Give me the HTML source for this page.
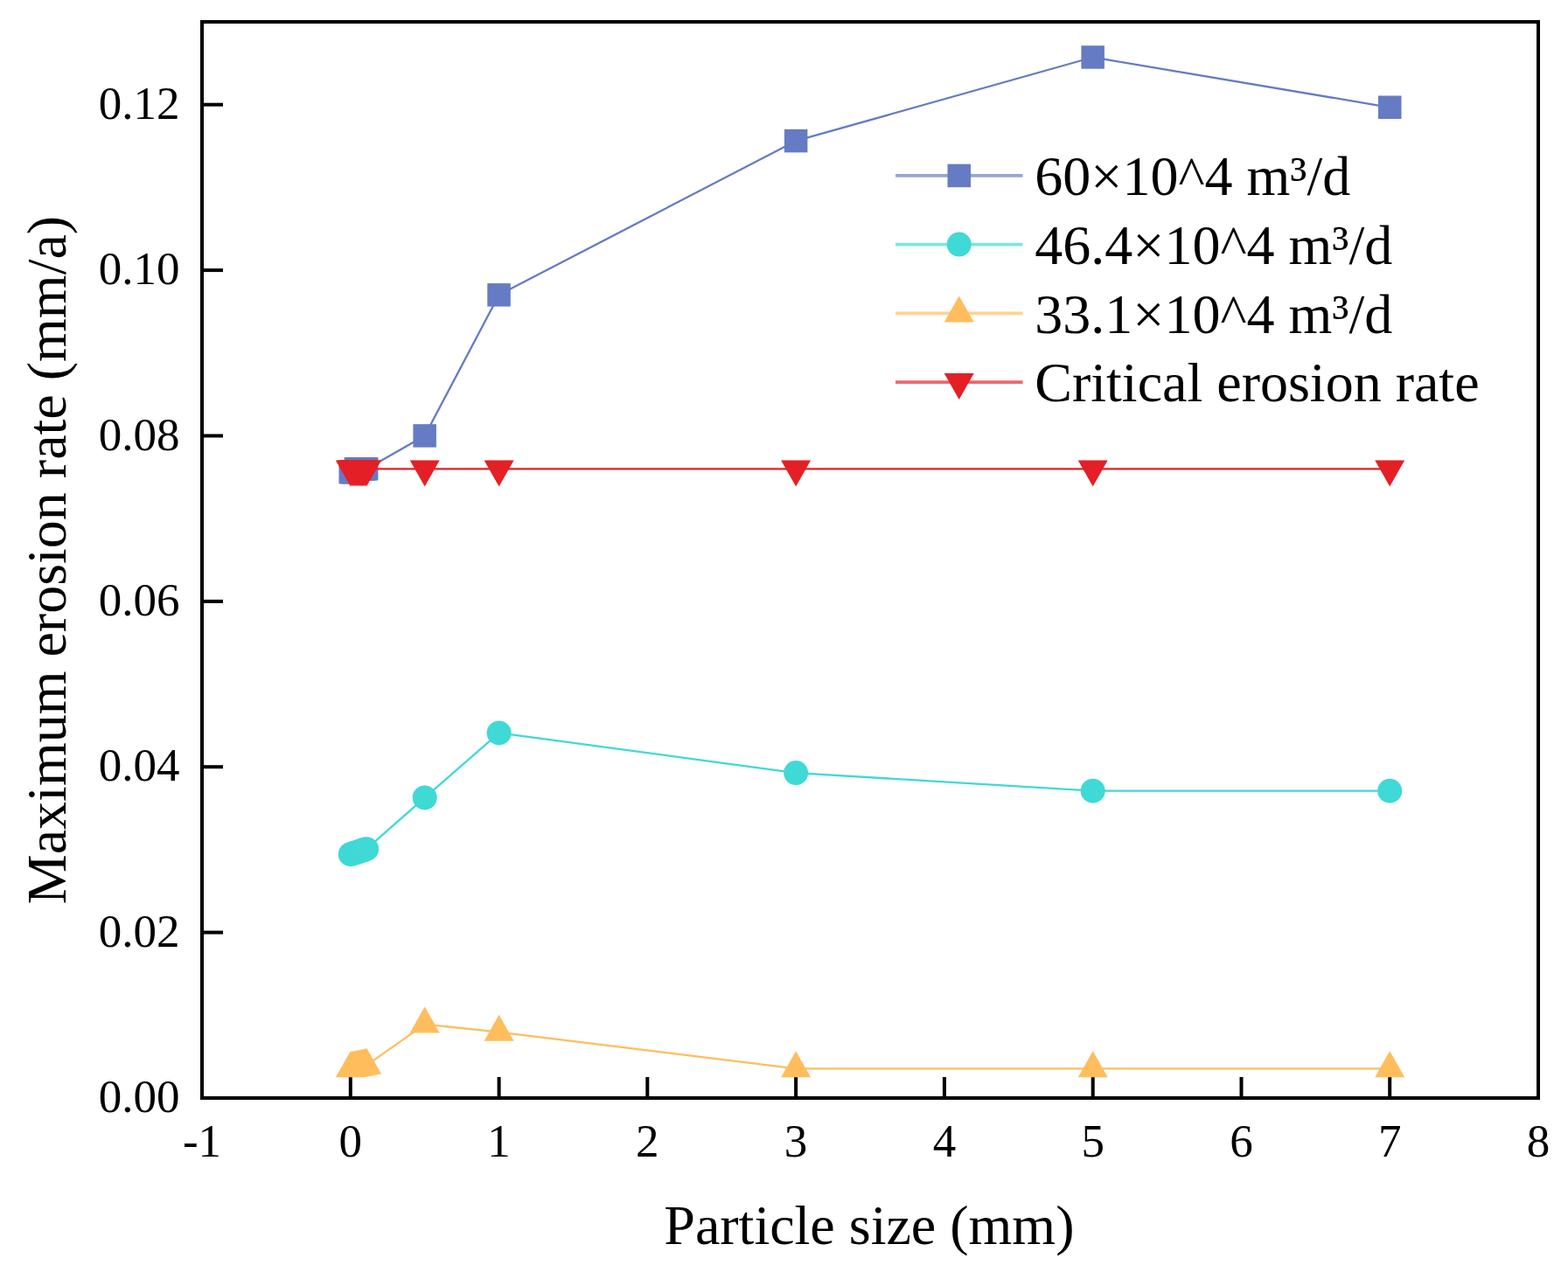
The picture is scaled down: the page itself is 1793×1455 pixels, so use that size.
<!DOCTYPE html>
<html><head><meta charset="utf-8"><style>
html,body{margin:0;padding:0;background:#fff;}
svg{display:block;filter:blur(0.45px);}
text{font-family:"Liberation Serif","Times New Roman",serif;fill:#000;}
</style></head><body>
<svg width="1793" height="1455" viewBox="0 0 1793 1455">
<rect width="1793" height="1455" fill="#fff"/>
<line x1="400.8" y1="1256.0" x2="400.8" y2="1232.0" stroke="#000" stroke-width="4"/><line x1="570.6" y1="1256.0" x2="570.6" y2="1232.0" stroke="#000" stroke-width="4"/><line x1="740.3" y1="1256.0" x2="740.3" y2="1232.0" stroke="#000" stroke-width="4"/><line x1="910.1" y1="1256.0" x2="910.1" y2="1232.0" stroke="#000" stroke-width="4"/><line x1="1079.9" y1="1256.0" x2="1079.9" y2="1232.0" stroke="#000" stroke-width="4"/><line x1="1249.7" y1="1256.0" x2="1249.7" y2="1232.0" stroke="#000" stroke-width="4"/><line x1="1419.5" y1="1256.0" x2="1419.5" y2="1232.0" stroke="#000" stroke-width="4"/><line x1="1589.2" y1="1256.0" x2="1589.2" y2="1232.0" stroke="#000" stroke-width="4"/><line x1="231.0" y1="1066.6" x2="255.0" y2="1066.6" stroke="#000" stroke-width="4"/><line x1="231.0" y1="877.2" x2="255.0" y2="877.2" stroke="#000" stroke-width="4"/><line x1="231.0" y1="687.9" x2="255.0" y2="687.9" stroke="#000" stroke-width="4"/><line x1="231.0" y1="498.5" x2="255.0" y2="498.5" stroke="#000" stroke-width="4"/><line x1="231.0" y1="309.1" x2="255.0" y2="309.1" stroke="#000" stroke-width="4"/><line x1="231.0" y1="119.7" x2="255.0" y2="119.7" stroke="#000" stroke-width="4"/>
<polyline points="400.8,540.1 402.8,540.1 404.9,540.1 406.9,536.4 408.9,536.4 411.0,536.4 413.0,536.4 415.0,536.4 417.1,536.4 419.1,536.4 485.7,498.5 570.6,337.3 910.1,161.2 1249.7,65.5 1589.2,122.8" fill="none" stroke="#657bc3" stroke-width="2.3" stroke-linejoin="round"/><rect x="387.5" y="526.9" width="26.5" height="26.5" fill="#657bc3"/><rect x="389.6" y="526.9" width="26.5" height="26.5" fill="#657bc3"/><rect x="391.6" y="526.9" width="26.5" height="26.5" fill="#657bc3"/><rect x="393.6" y="523.1" width="26.5" height="26.5" fill="#657bc3"/><rect x="395.7" y="523.1" width="26.5" height="26.5" fill="#657bc3"/><rect x="397.7" y="523.1" width="26.5" height="26.5" fill="#657bc3"/><rect x="399.8" y="523.1" width="26.5" height="26.5" fill="#657bc3"/><rect x="401.8" y="523.1" width="26.5" height="26.5" fill="#657bc3"/><rect x="403.8" y="523.1" width="26.5" height="26.5" fill="#657bc3"/><rect x="405.9" y="523.1" width="26.5" height="26.5" fill="#657bc3"/><rect x="472.4" y="485.2" width="26.5" height="26.5" fill="#657bc3"/><rect x="557.3" y="324.1" width="26.5" height="26.5" fill="#657bc3"/><rect x="896.9" y="147.9" width="26.5" height="26.5" fill="#657bc3"/><rect x="1236.4" y="52.2" width="26.5" height="26.5" fill="#657bc3"/><rect x="1576.0" y="109.5" width="26.5" height="26.5" fill="#657bc3"/><polyline points="400.8,977.2 402.8,976.6 404.9,975.9 406.9,975.2 408.9,974.5 411.0,973.9 413.0,973.2 415.0,972.5 417.1,971.8 419.1,971.2 485.7,912.4 570.6,838.4 910.1,884.1 1249.7,904.7 1589.2,904.7" fill="none" stroke="#3fd9d6" stroke-width="2.3" stroke-linejoin="round"/><circle cx="400.8" cy="977.2" r="14" fill="#3fd9d6"/><circle cx="402.8" cy="976.6" r="14" fill="#3fd9d6"/><circle cx="404.9" cy="975.9" r="14" fill="#3fd9d6"/><circle cx="406.9" cy="975.2" r="14" fill="#3fd9d6"/><circle cx="408.9" cy="974.5" r="14" fill="#3fd9d6"/><circle cx="411.0" cy="973.9" r="14" fill="#3fd9d6"/><circle cx="413.0" cy="973.2" r="14" fill="#3fd9d6"/><circle cx="415.0" cy="972.5" r="14" fill="#3fd9d6"/><circle cx="417.1" cy="971.8" r="14" fill="#3fd9d6"/><circle cx="419.1" cy="971.2" r="14" fill="#3fd9d6"/><circle cx="485.7" cy="912.4" r="14" fill="#3fd9d6"/><circle cx="570.6" cy="838.4" r="14" fill="#3fd9d6"/><circle cx="910.1" cy="884.1" r="14" fill="#3fd9d6"/><circle cx="1249.7" cy="904.7" r="14" fill="#3fd9d6"/><circle cx="1589.2" cy="904.7" r="14" fill="#3fd9d6"/><polyline points="400.8,1222.2 402.8,1221.8 404.9,1221.4 406.9,1221.0 408.9,1220.6 411.0,1220.2 413.0,1219.8 415.0,1219.4 417.1,1219.0 419.1,1218.6 485.7,1171.6 570.6,1180.7 910.1,1222.3 1249.7,1222.3 1589.2,1222.3" fill="none" stroke="#ffbd5c" stroke-width="2.3" stroke-linejoin="round"/><polygon points="400.8,1202.2 383.8,1232.2 417.8,1232.2" fill="#ffbd5c"/><polygon points="402.8,1201.8 385.8,1231.8 419.8,1231.8" fill="#ffbd5c"/><polygon points="404.9,1201.4 387.9,1231.4 421.9,1231.4" fill="#ffbd5c"/><polygon points="406.9,1201.0 389.9,1231.0 423.9,1231.0" fill="#ffbd5c"/><polygon points="408.9,1200.6 391.9,1230.6 425.9,1230.6" fill="#ffbd5c"/><polygon points="411.0,1200.2 394.0,1230.2 428.0,1230.2" fill="#ffbd5c"/><polygon points="413.0,1199.8 396.0,1229.8 430.0,1229.8" fill="#ffbd5c"/><polygon points="415.0,1199.4 398.0,1229.4 432.0,1229.4" fill="#ffbd5c"/><polygon points="417.1,1199.0 400.1,1229.0 434.1,1229.0" fill="#ffbd5c"/><polygon points="419.1,1198.6 402.1,1228.6 436.1,1228.6" fill="#ffbd5c"/><polygon points="485.7,1151.6 468.7,1181.6 502.7,1181.6" fill="#ffbd5c"/><polygon points="570.6,1160.7 553.6,1190.7 587.6,1190.7" fill="#ffbd5c"/><polygon points="910.1,1202.3 893.1,1232.3 927.1,1232.3" fill="#ffbd5c"/><polygon points="1249.7,1202.3 1232.7,1232.3 1266.7,1232.3" fill="#ffbd5c"/><polygon points="1589.2,1202.3 1572.2,1232.3 1606.2,1232.3" fill="#ffbd5c"/><polyline points="400.8,536.4 402.8,536.4 404.9,536.4 406.9,536.4 408.9,536.4 411.0,536.4 413.0,536.4 415.0,536.4 417.1,536.4 419.1,536.4 485.7,536.4 570.6,536.4 910.1,536.4 1249.7,536.4 1589.2,536.4" fill="none" stroke="#e41f26" stroke-width="2.3" stroke-linejoin="round"/><polygon points="400.8,556.4 383.8,526.4 417.8,526.4" fill="#e41f26"/><polygon points="402.8,556.4 385.8,526.4 419.8,526.4" fill="#e41f26"/><polygon points="404.9,556.4 387.9,526.4 421.9,526.4" fill="#e41f26"/><polygon points="406.9,556.4 389.9,526.4 423.9,526.4" fill="#e41f26"/><polygon points="408.9,556.4 391.9,526.4 425.9,526.4" fill="#e41f26"/><polygon points="411.0,556.4 394.0,526.4 428.0,526.4" fill="#e41f26"/><polygon points="413.0,556.4 396.0,526.4 430.0,526.4" fill="#e41f26"/><polygon points="415.0,556.4 398.0,526.4 432.0,526.4" fill="#e41f26"/><polygon points="417.1,556.4 400.1,526.4 434.1,526.4" fill="#e41f26"/><polygon points="419.1,556.4 402.1,526.4 436.1,526.4" fill="#e41f26"/><polygon points="485.7,556.4 468.7,526.4 502.7,526.4" fill="#e41f26"/><polygon points="570.6,556.4 553.6,526.4 587.6,526.4" fill="#e41f26"/><polygon points="910.1,556.4 893.1,526.4 927.1,526.4" fill="#e41f26"/><polygon points="1249.7,556.4 1232.7,526.4 1266.7,526.4" fill="#e41f26"/><polygon points="1589.2,556.4 1572.2,526.4 1606.2,526.4" fill="#e41f26"/>
<rect x="231.0" y="25" width="1528.0" height="1231.0" fill="none" stroke="#000" stroke-width="4"/>
<g font-size="53"><text x="231.0" y="1322.5" text-anchor="middle">-1</text><text x="400.8" y="1322.5" text-anchor="middle">0</text><text x="570.6" y="1322.5" text-anchor="middle">1</text><text x="740.3" y="1322.5" text-anchor="middle">2</text><text x="910.1" y="1322.5" text-anchor="middle">3</text><text x="1079.9" y="1322.5" text-anchor="middle">4</text><text x="1249.7" y="1322.5" text-anchor="middle">5</text><text x="1419.5" y="1322.5" text-anchor="middle">6</text><text x="1589.2" y="1322.5" text-anchor="middle">7</text><text x="1759.0" y="1322.5" text-anchor="middle">8</text><text x="205.5" y="1272.0" text-anchor="end">0.00</text><text x="205.5" y="1082.6" text-anchor="end">0.02</text><text x="205.5" y="893.2" text-anchor="end">0.04</text><text x="205.5" y="703.9" text-anchor="end">0.06</text><text x="205.5" y="514.5" text-anchor="end">0.08</text><text x="205.5" y="325.1" text-anchor="end">0.10</text><text x="205.5" y="135.7" text-anchor="end">0.12</text></g>
<line x1="1024" y1="200.9" x2="1169.5" y2="200.9" stroke="#657bc3" stroke-width="3.6" stroke-opacity="0.68"/><rect x="1083.5" y="187.7" width="26.5" height="26.5" fill="#657bc3"/><text x="1183.3" y="223.2" font-size="64">60×10^4 m³/d</text><line x1="1024" y1="279.6" x2="1169.5" y2="279.6" stroke="#3fd9d6" stroke-width="3.6" stroke-opacity="0.68"/><circle cx="1096.7" cy="279.6" r="14" fill="#3fd9d6"/><text x="1183.3" y="301.9" font-size="64">46.4×10^4 m³/d</text><line x1="1024" y1="358.4" x2="1169.5" y2="358.4" stroke="#ffbd5c" stroke-width="3.6" stroke-opacity="0.68"/><polygon points="1096.7,338.4 1079.7,368.4 1113.7,368.4" fill="#ffbd5c"/><text x="1183.3" y="380.7" font-size="64">33.1×10^4 m³/d</text><line x1="1024" y1="437.1" x2="1169.5" y2="437.1" stroke="#e41f26" stroke-width="3.6" stroke-opacity="0.68"/><polygon points="1096.7,457.1 1079.7,427.1 1113.7,427.1" fill="#e41f26"/><text x="1183.3" y="459.4" font-size="64">Critical erosion rate</text>
<text x="759.3" y="1423.3" font-size="64">Particle size (mm)</text>
<text transform="translate(74.6,1034.2) rotate(-90)" font-size="64">Maximum erosion rate (mm/a)</text>
</svg>
</body></html>
